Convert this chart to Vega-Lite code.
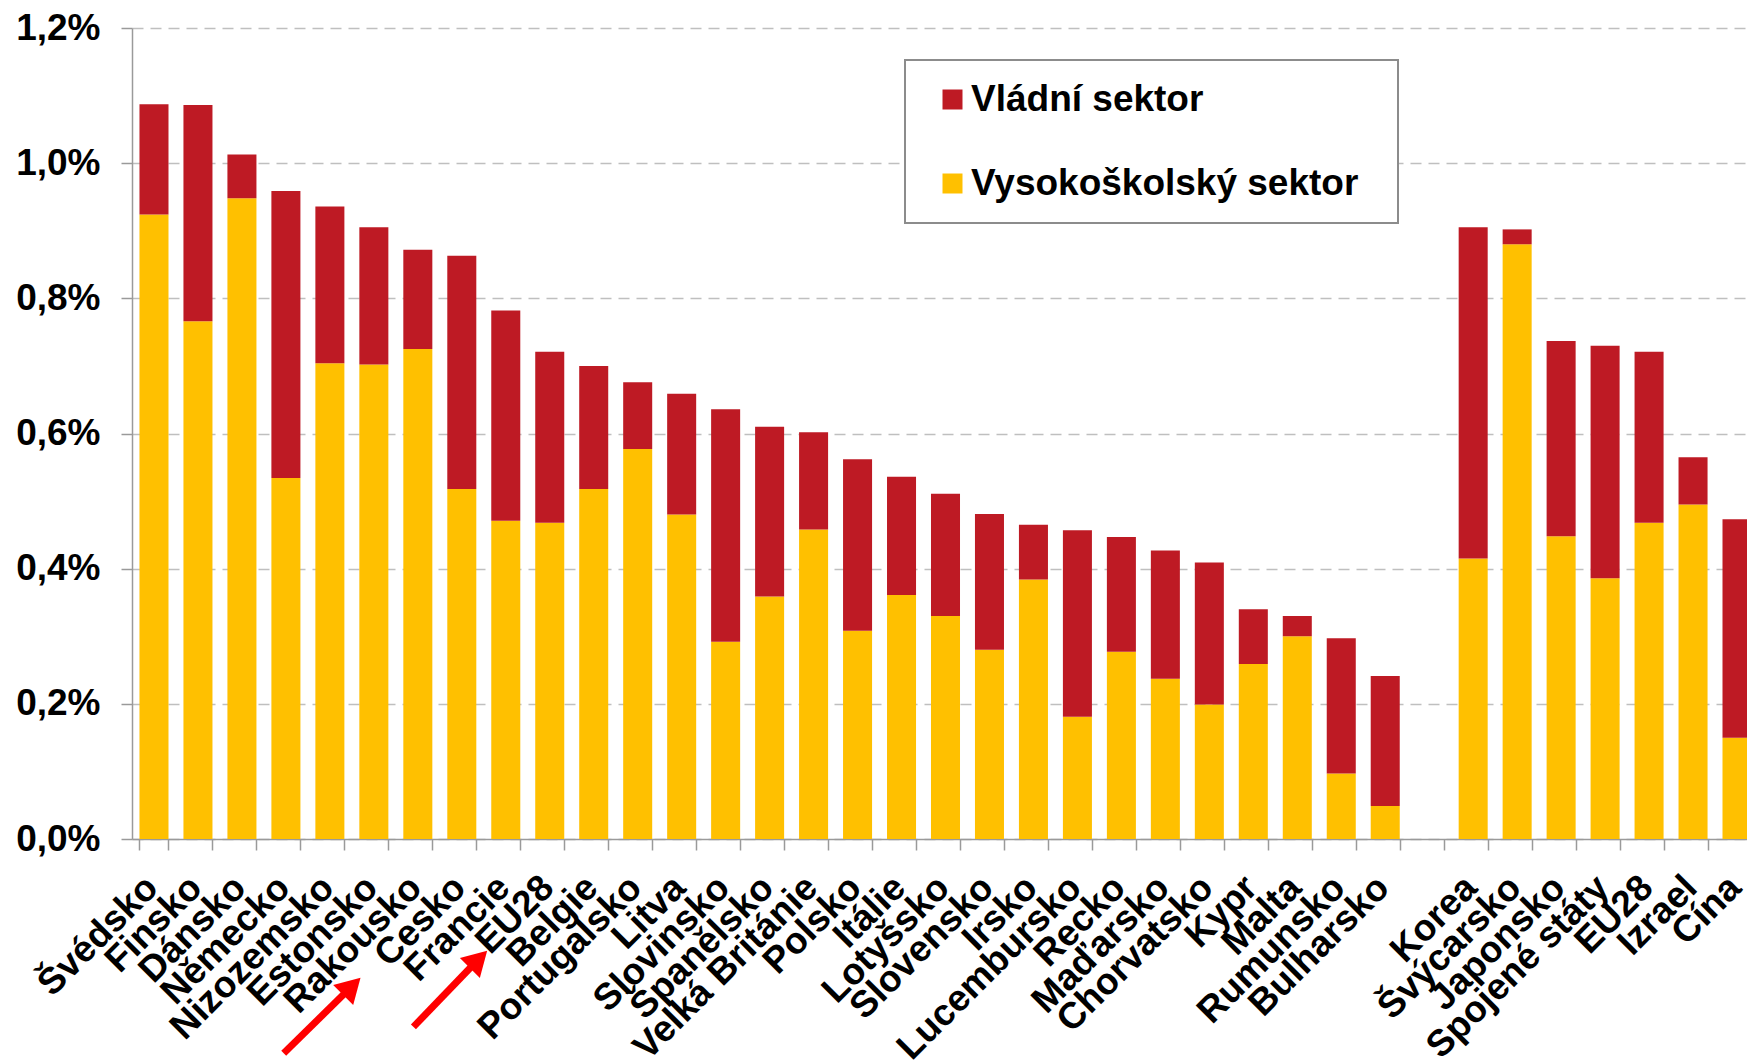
{
  "$schema": "https://vega.github.io/schema/vega-lite/v6.json",
  "width": 1627,
  "height": 811,
  "padding": {"left": 15, "top": 9, "right": 0, "bottom": 0},
  "background": "white",
  "config": {
    "font": "Liberation Sans",
    "view": {"stroke": null},
    "legend": {"strokeWidth": 2}
  },
  "datasets": {
    "bars": [
      {"zeme": "Švédsko", "sektor": "Vysokoškolský sektor", "podil": 0.924},
      {"zeme": "Švédsko", "sektor": "Vládní sektor", "podil": 0.163},
      {"zeme": "Finsko", "sektor": "Vysokoškolský sektor", "podil": 0.766},
      {"zeme": "Finsko", "sektor": "Vládní sektor", "podil": 0.320},
      {"zeme": "Dánsko", "sektor": "Vysokoškolský sektor", "podil": 0.948},
      {"zeme": "Dánsko", "sektor": "Vládní sektor", "podil": 0.065},
      {"zeme": "Německo", "sektor": "Vysokoškolský sektor", "podil": 0.534},
      {"zeme": "Německo", "sektor": "Vládní sektor", "podil": 0.425},
      {"zeme": "Nizozemsko", "sektor": "Vysokoškolský sektor", "podil": 0.704},
      {"zeme": "Nizozemsko", "sektor": "Vládní sektor", "podil": 0.232},
      {"zeme": "Estonsko", "sektor": "Vysokoškolský sektor", "podil": 0.702},
      {"zeme": "Estonsko", "sektor": "Vládní sektor", "podil": 0.203},
      {"zeme": "Rakousko", "sektor": "Vysokoškolský sektor", "podil": 0.725},
      {"zeme": "Rakousko", "sektor": "Vládní sektor", "podil": 0.147},
      {"zeme": "Cesko", "sektor": "Vysokoškolský sektor", "podil": 0.518},
      {"zeme": "Cesko", "sektor": "Vládní sektor", "podil": 0.345},
      {"zeme": "Francie", "sektor": "Vysokoškolský sektor", "podil": 0.471},
      {"zeme": "Francie", "sektor": "Vládní sektor", "podil": 0.311},
      {"zeme": "EU28", "sektor": "Vysokoškolský sektor", "podil": 0.468},
      {"zeme": "EU28", "sektor": "Vládní sektor", "podil": 0.253},
      {"zeme": "Belgie", "sektor": "Vysokoškolský sektor", "podil": 0.518},
      {"zeme": "Belgie", "sektor": "Vládní sektor", "podil": 0.182},
      {"zeme": "Portugalsko", "sektor": "Vysokoškolský sektor", "podil": 0.577},
      {"zeme": "Portugalsko", "sektor": "Vládní sektor", "podil": 0.099},
      {"zeme": "Litva", "sektor": "Vysokoškolský sektor", "podil": 0.480},
      {"zeme": "Litva", "sektor": "Vládní sektor", "podil": 0.179},
      {"zeme": "Slovinsko", "sektor": "Vysokoškolský sektor", "podil": 0.292},
      {"zeme": "Slovinsko", "sektor": "Vládní sektor", "podil": 0.344},
      {"zeme": "Španělsko", "sektor": "Vysokoškolský sektor", "podil": 0.359},
      {"zeme": "Španělsko", "sektor": "Vládní sektor", "podil": 0.251},
      {"zeme": "Velká Británie", "sektor": "Vysokoškolský sektor", "podil": 0.458},
      {"zeme": "Velká Británie", "sektor": "Vládní sektor", "podil": 0.144},
      {"zeme": "Polsko", "sektor": "Vysokoškolský sektor", "podil": 0.308},
      {"zeme": "Polsko", "sektor": "Vládní sektor", "podil": 0.254},
      {"zeme": "Itálie", "sektor": "Vysokoškolský sektor", "podil": 0.361},
      {"zeme": "Itálie", "sektor": "Vládní sektor", "podil": 0.175},
      {"zeme": "Lotyšsko", "sektor": "Vysokoškolský sektor", "podil": 0.330},
      {"zeme": "Lotyšsko", "sektor": "Vládní sektor", "podil": 0.181},
      {"zeme": "Slovensko", "sektor": "Vysokoškolský sektor", "podil": 0.280},
      {"zeme": "Slovensko", "sektor": "Vládní sektor", "podil": 0.201},
      {"zeme": "Irsko", "sektor": "Vysokoškolský sektor", "podil": 0.384},
      {"zeme": "Irsko", "sektor": "Vládní sektor", "podil": 0.081},
      {"zeme": "Lucembursko", "sektor": "Vysokoškolský sektor", "podil": 0.181},
      {"zeme": "Lucembursko", "sektor": "Vládní sektor", "podil": 0.276},
      {"zeme": "Recko", "sektor": "Vysokoškolský sektor", "podil": 0.277},
      {"zeme": "Recko", "sektor": "Vládní sektor", "podil": 0.170},
      {"zeme": "Maďarsko", "sektor": "Vysokoškolský sektor", "podil": 0.237},
      {"zeme": "Maďarsko", "sektor": "Vládní sektor", "podil": 0.190},
      {"zeme": "Chorvatsko", "sektor": "Vysokoškolský sektor", "podil": 0.199},
      {"zeme": "Chorvatsko", "sektor": "Vládní sektor", "podil": 0.210},
      {"zeme": "Kypr", "sektor": "Vysokoškolský sektor", "podil": 0.259},
      {"zeme": "Kypr", "sektor": "Vládní sektor", "podil": 0.081},
      {"zeme": "Malta", "sektor": "Vysokoškolský sektor", "podil": 0.300},
      {"zeme": "Malta", "sektor": "Vládní sektor", "podil": 0.030},
      {"zeme": "Rumunsko", "sektor": "Vysokoškolský sektor", "podil": 0.097},
      {"zeme": "Rumunsko", "sektor": "Vládní sektor", "podil": 0.200},
      {"zeme": "Bulharsko", "sektor": "Vysokoškolský sektor", "podil": 0.049},
      {"zeme": "Bulharsko", "sektor": "Vládní sektor", "podil": 0.192},
      {"zeme": "Korea", "sektor": "Vysokoškolský sektor", "podil": 0.415},
      {"zeme": "Korea", "sektor": "Vládní sektor", "podil": 0.490},
      {"zeme": "Švýcarsko", "sektor": "Vysokoškolský sektor", "podil": 0.880},
      {"zeme": "Švýcarsko", "sektor": "Vládní sektor", "podil": 0.022},
      {"zeme": "Japonsko", "sektor": "Vysokoškolský sektor", "podil": 0.448},
      {"zeme": "Japonsko", "sektor": "Vládní sektor", "podil": 0.289},
      {"zeme": "Spojené státy", "sektor": "Vysokoškolský sektor", "podil": 0.386},
      {"zeme": "Spojené státy", "sektor": "Vládní sektor", "podil": 0.344},
      {"zeme": "EU28 ", "sektor": "Vysokoškolský sektor", "podil": 0.468},
      {"zeme": "EU28 ", "sektor": "Vládní sektor", "podil": 0.253},
      {"zeme": "Izrael", "sektor": "Vysokoškolský sektor", "podil": 0.495},
      {"zeme": "Izrael", "sektor": "Vládní sektor", "podil": 0.070},
      {"zeme": "Cína", "sektor": "Vysokoškolský sektor", "podil": 0.150},
      {"zeme": "Cína", "sektor": "Vládní sektor", "podil": 0.323}
    ],
    "arrows": [
      {"x_od": 3.45, "y_od": -0.317, "x_do": 5.0, "y_do": -0.218},
      {"x_od": 6.40, "y_od": -0.278, "x_do": 7.88, "y_do": -0.178}
    ]
  },
  "layer": [
    {
      "data": {"name": "bars"},
      "mark": {"type": "bar"},
      "encoding": {
        "x": {
          "field": "zeme",
          "type": "nominal",
          "scale": {
            "domain": ["Švédsko", "Finsko", "Dánsko", "Německo", "Nizozemsko", "Estonsko", "Rakousko", "Cesko", "Francie", "EU28", "Belgie", "Portugalsko", "Litva", "Slovinsko", "Španělsko", "Velká Británie", "Polsko", "Itálie", "Lotyšsko", "Slovensko", "Irsko", "Lucembursko", "Recko", "Maďarsko", "Chorvatsko", "Kypr", "Malta", "Rumunsko", "Bulharsko", " ", "Korea", "Švýcarsko", "Japonsko", "Spojené státy", "EU28 ", "Izrael", "Cína"],
            "paddingInner": 0.34,
            "paddingOuter": 0.17
          },
          "axis": {
            "title": null,
            "labelAngle": -45,
            "labelAlign": "right",
            "labelBaseline": "top",
            "labelFontSize": 37,
            "labelFontWeight": "bold",
            "labelColor": "black",
            "labelPadding": 19,
            "labelOffset": -15,
            "labelOverlap": false,
            "labelLimit": 0,
            "labelExpr": "trim(datum.label)",
            "tickBand": "extent",
            "tickSize": 11,
            "tickColor": "#9a9a9a",
            "tickWidth": 1.5,
            "domainColor": "#9a9a9a",
            "domainWidth": 1.5,
            "grid": false
          }
        },
        "y": {
          "field": "podil",
          "type": "quantitative",
          "stack": "zero",
          "scale": {"domain": [0, 1.2], "nice": false},
          "axis": {
            "title": null,
            "values": [0, 0.2, 0.4, 0.6, 0.8, 1.0, 1.2],
            "labelExpr": "replace(format(datum.value, '.1f'), '.', ',') + '%'",
            "labelFontSize": 37,
            "labelFontWeight": "bold",
            "labelColor": "black",
            "labelPadding": 21,
            "tickSize": 11,
            "tickColor": "#9a9a9a",
            "tickWidth": 1.5,
            "domainColor": "#9a9a9a",
            "domainWidth": 1.5,
            "grid": true,
            "gridDash": [11, 7],
            "gridColor": "#BFBFBF",
            "gridWidth": 1.5
          }
        },
        "color": {
          "field": "sektor",
          "type": "nominal",
          "scale": {"domain": ["Vládní sektor", "Vysokoškolský sektor"], "range": ["#BE1A24", "#FFC000"]},
          "legend": {
            "title": null,
            "orient": "none",
            "legendX": 773,
            "legendY": 32,
            "direction": "vertical",
            "symbolType": "square",
            "symbolSize": 400,
            "symbolStrokeWidth": 0,
            "symbolOffset": 8,
            "labelOffset": 0,
            "labelFontSize": 37,
            "labelFontWeight": "bold",
            "labelColor": "black",
            "labelLimit": 0,
            "labelExpr": "datum.label + '\u00a0\u2009\u2060'",
            "rowPadding": 46,
            "padding": 21,
            "strokeColor": "#8C8C8C",
            "fillColor": "white"
          }
        },
        "order": {"field": "sektor", "sort": "descending"}
      }
    },
    {
      "data": {"name": "arrows"},
      "mark": {"type": "rule", "color": "#FF0000", "strokeWidth": 7},
      "encoding": {
        "x": {"field": "x_od", "type": "quantitative", "scale": {"domain": [0, 37], "nice": false, "zero": false}, "axis": null},
        "x2": {"field": "x_do"},
        "y": {"field": "y_od", "type": "quantitative", "scale": {"domain": [0, 1.2], "nice": false}},
        "y2": {"field": "y_do"}
      }
    },
    {
      "data": {"name": "arrows"},
      "mark": {"type": "point", "shape": "triangle-up", "filled": true, "color": "#FF0000", "opacity": 1, "size": 800, "angle": 45},
      "encoding": {
        "x": {"field": "x_do", "type": "quantitative", "scale": {"domain": [0, 37], "nice": false, "zero": false}, "axis": null},
        "y": {"field": "y_do", "type": "quantitative", "scale": {"domain": [0, 1.2], "nice": false}}
      }
    }
  ],
  "resolve": {"scale": {"x": "independent"}, "axis": {"x": "independent"}}
}
